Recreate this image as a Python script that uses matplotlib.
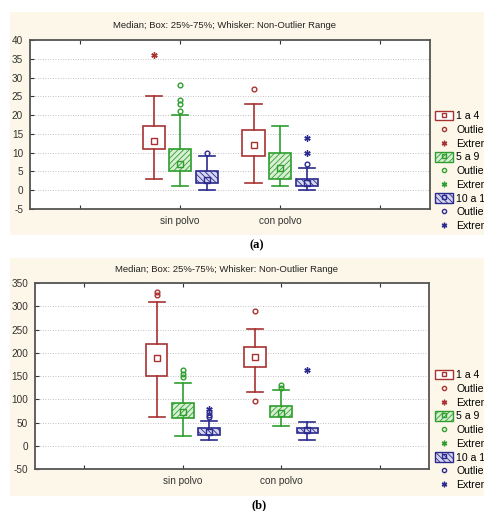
import matplotlib
matplotlib.use("Agg")
import matplotlib.pyplot as plt
from matplotlib.patches import Rectangle, Patch
from matplotlib.lines import Line2D
from matplotlib.legend_handler import HandlerTuple

plt.rcParams['font.family'] = ['Liberation Sans', 'DejaVu Sans']
plt.rcParams['hatch.linewidth'] = 0.6

# data
categories = ['sin polvo', 'con polvo']
groups = ['1 a 4', '5 a 9', '10 a 14']
colors = ['#a83232', '#2e9e2e', '#2b2b8f']
hatches = [None, '//////', '\\\\\\\\\\\\']
box_fill = ['white', '#d9efd4', '#d6d6ee']

# panel (a): [group][category] -> (whislo, q1, med, q3, whishi)
a_stats = [
    [(3, 11, 13, 17, 25), (2, 9, 12, 16, 23)],
    [(1, 5, 7, 11, 20), (1, 3, 6, 10, 17)],
    [(0, 2, 2.7, 5, 9), (0, 1, 2, 3, 6)],
]
a_outliers = [
    [[], [27]],
    [[21, 23, 24, 28], []],
    [[10], [7]],
]
a_extremes = [
    [[36], []],
    [[], []],
    [[], [10, 14]],
]

# panel (b)
b_stats = [
    [(61, 150, 188, 218, 309), (116, 169, 190, 213, 251)],
    [(22, 60, 72, 91, 134), (43, 62, 71, 85, 119)],
    [(12, 24, 30, 38, 54), (12, 27, 33, 38, 52)],
]
b_outliers = [
    [[325, 330], [96, 290]],
    [[147, 155, 163], [125, 131]],
    [[61, 67, 73], []],
]
b_extremes = [
    [[], []],
    [[], []],
    [[79], [163]],
]

title = 'Median; Box: 25%-75%; Whisker: Non-Outlier Range'
cream = '#fcf7e8'

fig = plt.figure(figsize=(4.84, 5.11), dpi=100)
W, H = 484, 511


def px(l, t, r, b):
    return [l / W, 1 - b / H, (r - l) / W, (b - t) / H]


def draw_panel(rect_bg, rect_ax, stats, outliers, extremes, yticks, title_y, legend_top, label, label_y):
    bl, bt, br, bb = rect_bg
    fig.patches.append(Rectangle((bl / W, 1 - bb / H), (br - bl) / W, (bb - bt) / H,
                                 transform=fig.transFigure, facecolor=cream,
                                 edgecolor='none', zorder=-10))
    ax = fig.add_axes(px(*rect_ax))
    ax.set_facecolor('white')
    offsets = [-0.265, 0, 0.265]
    for g in range(3):
        bxstats = []
        pos = []
        for c in range(len(categories)):
            lo, q1, med, q3, hi = stats[g][c]
            bxstats.append(dict(whislo=lo, q1=q1, med=med, q3=q3, whishi=hi, fliers=[]))
            pos.append(c + 1 + offsets[g])
        col = colors[g]
        res = ax.bxp(bxstats, positions=pos, widths=0.22, capwidths=0.16,
                     patch_artist=True, showfliers=False,
                     boxprops=dict(edgecolor=col, facecolor=box_fill[g], linewidth=1.2),
                     whiskerprops=dict(color=col, linewidth=1.2),
                     capprops=dict(color=col, linewidth=1.2),
                     medianprops=dict(linestyle='none'))
        for b in res['boxes']:
            if hatches[g]:
                b.set_hatch(hatches[g])
        meds = [s['med'] for s in bxstats]
        ax.plot(pos, meds, linestyle='none', marker='s', markersize=4,
                markerfacecolor='none', markeredgecolor=col, markeredgewidth=1.0, zorder=5)
        for c in range(len(categories)):
            if outliers[g][c]:
                ax.plot([pos[c]] * len(outliers[g][c]), outliers[g][c], linestyle='none',
                        marker='o', markersize=3.4, markerfacecolor='none',
                        markeredgecolor=col, markeredgewidth=1.0)
            if extremes[g][c]:
                ax.plot([pos[c]] * len(extremes[g][c]), extremes[g][c], linestyle='none',
                        marker=(6, 2, 0), markersize=4.5, color=col, markeredgewidth=1.0)
    ax.set_xlim(-0.5, 3.5)
    ax.set_ylim(yticks[0], yticks[-1])
    ax.set_xticks([0, 1, 2, 3])
    ax.set_xticklabels(['', categories[0], categories[1], ''], fontsize=7.2)
    ax.set_yticks(yticks)
    ax.set_yticklabels([str(v) for v in yticks], fontsize=7.2)
    ax.tick_params(direction='in', length=3, top=True, right=False, width=0.8,
                   colors='#333333', pad=5)
    ax.yaxis.grid(True, linestyle=(0, (1, 2)), color='#b0b0b0', linewidth=0.6)
    ax.set_axisbelow(True)
    for s in ax.spines.values():
        s.set_color('#555555')
        s.set_linewidth(1.3)
    fig.text((rect_ax[0] + rect_ax[2]) / 2 / W - 0.012, 1 - title_y / H, title,
             ha='center', va='center', fontsize=6.8, color='#222222')

    handles = []
    labels = []
    for g in range(3):
        col = colors[g]
        patch = Patch(facecolor=box_fill[g], edgecolor=col, hatch=hatches[g], linewidth=1.0)
        sq = Line2D([], [], linestyle='none', marker='s', markersize=3,
                    markerfacecolor='none', markeredgecolor=col)
        handles.append((patch, sq))
        labels.append(groups[g])
        handles.append(Line2D([], [], linestyle='none', marker='o', markersize=3,
                              markerfacecolor='none', markeredgecolor=col))
        labels.append('Outliers')
        handles.append(Line2D([], [], linestyle='none', marker=(6, 2, 0), markersize=4,
                              color=col))
        labels.append('Extremes')
    fig.legend(handles, labels, loc='upper left',
               bbox_to_anchor=(435 / W, 1 - legend_top / H),
               frameon=False, fontsize=7.6, handlelength=1.75, handleheight=1.0,
               handletextpad=0.25, labelspacing=0.32, borderpad=0, borderaxespad=0,
               handler_map={tuple: HandlerTuple(ndivide=1, pad=0)})
    fig.text(rect_ax[0] / W + 0.5 * (rect_ax[2] - rect_ax[0]) / W + 0.055, 1 - label_y / H, label,
             ha='center', va='center', fontsize=9, fontweight='bold', family='Liberation Serif')
    return ax


draw_panel((10, 12, 484, 235), (30, 40, 430, 209), a_stats, a_outliers, a_extremes,
           list(range(-5, 41, 5)), 25, 111, '(a)', 245)
draw_panel((10, 258, 484, 496), (35, 283, 429, 469), b_stats, b_outliers, b_extremes,
           list(range(-50, 351, 50)), 270, 370, '(b)', 505)

fig.savefig('out.png', dpi=100)
